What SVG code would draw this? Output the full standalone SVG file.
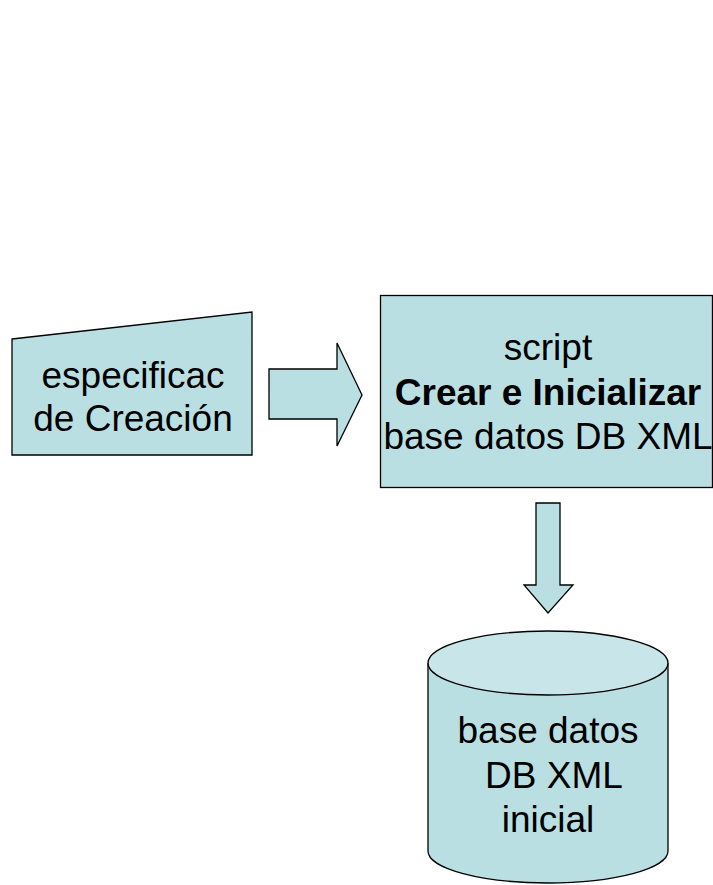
<svg xmlns="http://www.w3.org/2000/svg" width="713" height="885" viewBox="0 0 713 885">
<style>
.shape{fill:#BADFE3;stroke:#000;stroke-width:1.3}
.top{fill:#C8E6E9;stroke:#000;stroke-width:1.3}
.t{font-family:"Liberation Sans",Arial,sans-serif;font-size:37px;fill:#000;text-anchor:middle}
.b{font-weight:bold}
</style>
<rect width="713" height="885" fill="#fff"/>
<g id="spec">
<polygon class="shape" points="12,339 252,312 252,455 12,455"/>
<text class="t" x="133" y="388">especificac</text>
<text class="t" x="133" y="431">de Creación</text>
</g>
<g id="script">
<rect class="shape" x="380.5" y="295.5" width="332" height="192"/>
<text class="t" x="548" y="360">script</text>
<text class="t b" x="548" y="405">Crear e Inicializar</text>
<text class="t" x="548" y="449">base datos DB XML</text>
</g>
<g id="db">
<path class="shape" d="M428,663 L428,851 A120,32 0 0 0 668,851 L668,663"/>
<ellipse class="top" cx="548" cy="663" rx="120" ry="32"/>
<text class="t" x="548" y="743">base datos</text>
<text class="t" x="554" y="788">DB XML</text>
<text class="t" x="548" y="832">inicial</text>
</g>
<g id="connectors">
<polygon class="shape" points="269,369 337,369 337,343 362,395 337,446 337,419 269,419"/>
<polygon class="shape" points="536,503 560,503 560,585 573,585 548,613 524,585 536,585"/>
</g>
</svg>
